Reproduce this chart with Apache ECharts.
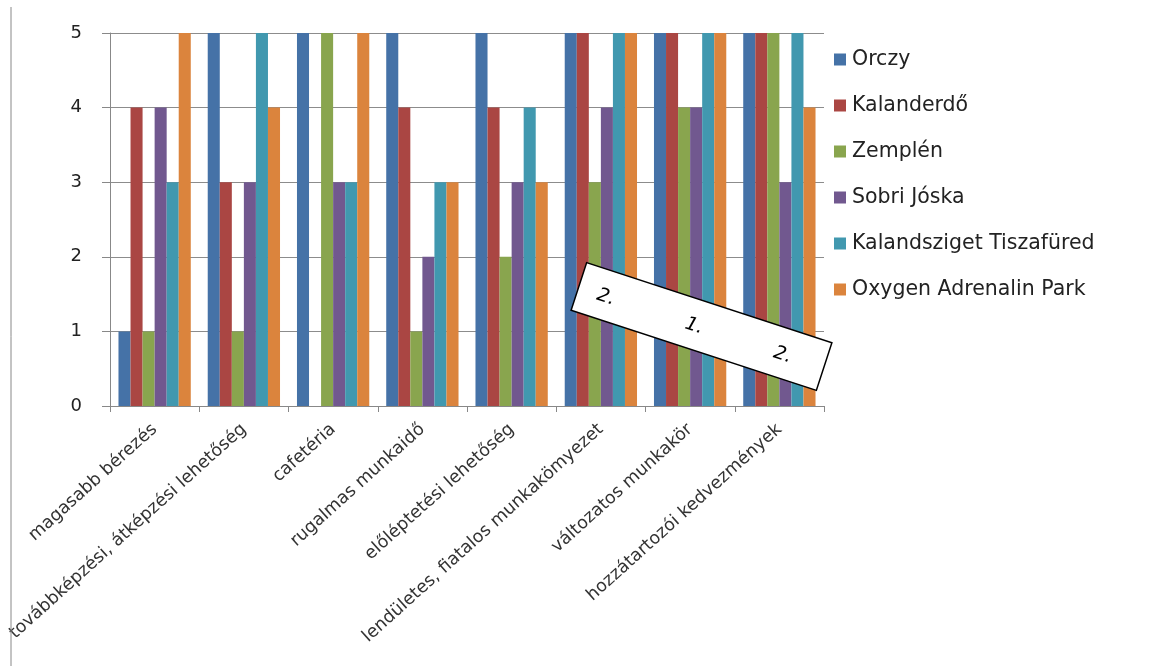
<!DOCTYPE html>
<html>
<head>
<meta charset="utf-8">
<script src="https://cdn.jsdelivr.net/npm/echarts@6/dist/echarts.min.js"></script>
<style>html,body{margin:0;padding:0;background:#fff;}#c{width:1163px;height:666px;}</style>
</head>
<body>
<div id="c"></div>
<script>
const categories = [
  'magasabb bérezés',
  'továbbképzési, átképzési lehetőség',
  'cafetéria',
  'rugalmas munkaidő',
  'előléptetési lehetőség',
  'lendületes, fiatalos munkakömyezet',
  'változatos munkakör',
  'hozzátartozói kedvezmények'
];
const seriesNames = ['Orczy', 'Kalanderdő', 'Zemplén', 'Sobri Jóska', 'Kalandsziget Tiszafüred', 'Oxygen Adrenalin Park'];
const orczy        = [1, 5, 5, 5, 5, 5, 5, 5];
const kalanderdo   = [4, 3, 0, 4, 4, 5, 5, 5];
const zemplen      = [1, 1, 5, 1, 2, 3, 4, 5];
const sobri        = [4, 3, 3, 2, 3, 4, 4, 3];
const kalandsziget = [3, 5, 3, 3, 4, 5, 5, 5];
const oxygen       = [5, 4, 5, 3, 3, 5, 5, 4];
const yTicks = [0, 1, 2, 3, 4, 5];
const boxLabels = ['2.', '1.', '2.'];

const colors = ['#4572A7', '#AA4643', '#89A54E', '#71588F', '#4198AF', '#DB843D'];
const values = [orczy, kalanderdo, zemplen, sobri, kalandsziget, oxygen];

const chart = echarts.init(document.getElementById('c'), null, {renderer: 'canvas'});
const font = 'DejaVu Sans';
chart.setOption({
  animation: false,
  color: colors,
  grid: {left: 110, right: 339, top: 33, bottom: 260, containLabel: false, outerBoundsMode: 'none'},
  legend: {
    orient: 'vertical', left: 829, top: 44,
    itemWidth: 12, itemHeight: 12, itemGap: 25, icon: 'rect',
    data: seriesNames,
    textStyle: {fontFamily: font, fontSize: 20.5, color: '#222', lineHeight: 20, padding: [0, 0, 0, 1]}
  },
  xAxis: {
    type: 'category', data: categories,
    axisLine: {lineStyle: {color: '#888', width: 1}},
    axisTick: {show: true, length: 6, lineStyle: {color: '#888'}},
    axisLabel: {rotate: 42, interval: 0, fontFamily: font, fontSize: 17.5, color: '#333', margin: 21}
  },
  yAxis: {
    type: 'value', min: yTicks[0], max: yTicks[yTicks.length - 1], interval: 1,
    axisLine: {show: true, lineStyle: {color: '#888', width: 1}},
    axisTick: {show: true, length: 8, lineStyle: {color: '#888'}},
    splitLine: {lineStyle: {color: '#8c8c8c', width: 1}},
    axisLabel: {fontFamily: font, fontSize: 18, color: '#222', margin: 28}
  },
  series: seriesNames.map((n, i) => ({
    name: n, type: 'bar', data: values[i],
    barGap: '0%', barCategoryGap: '19%'
  })),
  graphic: [
    {type: 'line', z: 100, shape: {x1: 11, y1: 7, x2: 11, y2: 666}, style: {stroke: '#888', lineWidth: 1}},
    {
      type: 'group', z: 100, x: 701.5, y: 326.5, rotation: -18.1 * Math.PI / 180,
      children: [
        {type: 'rect', z: 100, shape: {x: -129, y: -25, width: 258, height: 50}, style: {fill: '#fff', stroke: '#000', lineWidth: 1.5}},
        {type: 'text', z: 101, x: -100, y: 2, style: {text: boxLabels[0], fontFamily: font, fontStyle: 'italic', fontSize: 19, fill: '#000', align: 'center', verticalAlign: 'middle'}},
        {type: 'text', z: 101, x: -7, y: 2, style: {text: boxLabels[1], fontFamily: font, fontStyle: 'italic', fontSize: 19, fill: '#000', align: 'center', verticalAlign: 'middle'}},
        {type: 'text', z: 101, x: 86, y: 2, style: {text: boxLabels[2], fontFamily: font, fontStyle: 'italic', fontSize: 19, fill: '#000', align: 'center', verticalAlign: 'middle'}}
      ]
    }
  ]
});
</script>
</body>
</html>
